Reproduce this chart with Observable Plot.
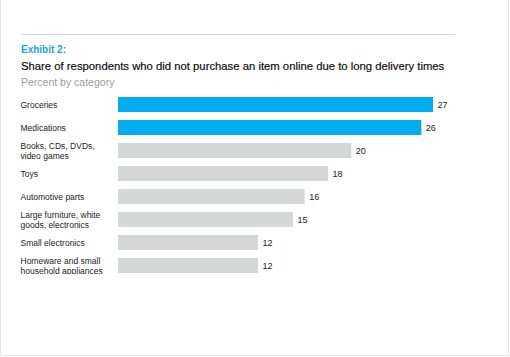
<!DOCTYPE html>
<html>
<head>
<meta charset="utf-8">
<script src="https://cdn.jsdelivr.net/npm/d3@7"></script>
<script src="https://cdn.jsdelivr.net/npm/@observablehq/plot@0.6"></script>
<style>
  html, body { margin: 0; padding: 0; background: #fff; }
  body { width: 510px; height: 357px; position: relative; overflow: hidden; font-family: "Liberation Sans", Arial, sans-serif; }
  .frame { position: absolute; left: 0; top: -2px; width: 509px; height: 358px; border: 1px solid #e6e6e6; box-sizing: border-box; }
  .rule { position: absolute; left: 21px; top: 34px; width: 434px; height: 0; border-top: 1px solid #d8d8d8; }
  .t { position: absolute; left: 21px; line-height: 1; white-space: nowrap; }
  .exhibit { top: 45px; font-size: 10px; font-weight: bold; color: #1ba3dc; }
  .title { top: 61px; font-size: 11.3px; color: #111; -webkit-text-stroke: 0.2px #111; }
  .subtitle { top: 77px; font-size: 10.5px; color: #9c9c9c; }
  #chart { position: absolute; left: 0; top: 80px; width: 510px; height: 194px; overflow: hidden; }
</style>
</head>
<body>
<div class="frame"></div>
<div class="rule"></div>
<div class="t exhibit">Exhibit 2:</div>
<div class="t title">Share of respondents who did not purchase an item online due to long delivery times</div>
<div class="t subtitle">Percent by category</div>
<div id="chart"></div>
<script>
const categories = [
  "Groceries",
  "Medications",
  "Books, CDs, DVDs, video games",
  "Toys",
  "Automotive parts",
  "Large furniture, white goods, electronics",
  "Small electronics",
  "Homeware and small household appliances"
];
const tickLabels = [
  "Groceries",
  "Medications",
  "Books, CDs, DVDs,\nvideo games",
  "Toys",
  "Automotive parts",
  "Large furniture, white\ngoods, electronics",
  "Small electronics",
  "Homeware and small\nhousehold appliances"
];
const values = [27, 26, 20, 18, 16, 15, 12, 12];
const highlighted = ["Groceries", "Medications"];

const data = categories.map((c, i) => ({category: c, label: tickLabels[i], value: values[i]}));

const chart = Plot.plot({
  width: 510,
  height: 204,
  marginTop: 6,
  marginBottom: 0,
  marginLeft: 118,
  marginRight: 42,
  style: {background: "transparent", fontFamily: "Liberation Sans, Arial, sans-serif"},
  x: {domain: [0, 30], axis: null},
  y: {domain: categories, padding: 0.327, axis: null},
  marks: [
    Plot.barX(data, {
      y: "category",
      x: "value",
      fill: d => highlighted.includes(d.category) ? "#00aeef" : "#d5d7d7"
    }),
    Plot.text(data, {
      y: "category",
      x: "value",
      text: d => String(d.value),
      textAnchor: "start",
      dx: 4,
      fontSize: 9,
      fill: "#222"
    }),
    Plot.text(data, {
      y: "category",
      text: "label",
      frameAnchor: "left",
      textAnchor: "start",
      dx: -98,
      fontSize: 8.5,
      lineHeight: 1.2,
      fill: "#222"
    })
  ]
});
document.getElementById("chart").appendChild(chart);
</script>
</body>
</html>
